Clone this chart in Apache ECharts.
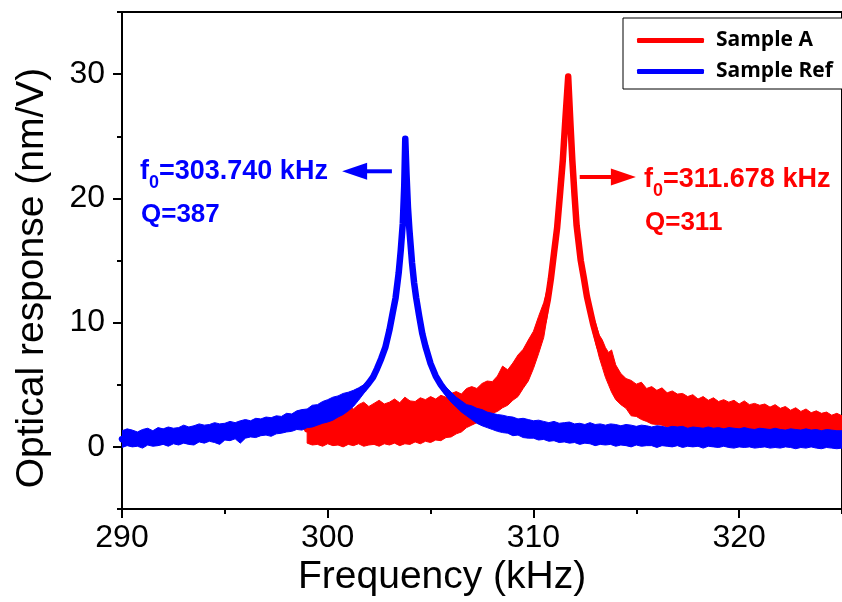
<!DOCTYPE html>
<html><head><meta charset="utf-8">
<script src="https://cdn.jsdelivr.net/npm/echarts@6/dist/echarts.min.js"></script>
<style>html,body{margin:0;padding:0;background:#fff;} #c{width:842px;height:602px;}</style>
</head><body><div id="c"></div>
<script>
// ---- data ----
const xMajorTicks = [290, 300, 310, 320];
const xMinorTicks = [295, 305, 315, 325];
const yMajorTicks = [0, 10, 20, 30];
const yMinorTicks = [-5, 5, 15, 25, 35];
const seriesNames = ['Sample A', 'Sample Ref'];
const xTitle = 'Frequency (kHz)';
const yTitle = 'Optical response (nm/V)';

// Sample Ref (blue): [frequency kHz, lower edge, upper edge] of the noisy trace
const blueTrace = [
  [290,-0.05,1.30],[290.25,0.10,1.45],[290.5,0.00,1.35],[290.75,0.05,1.20],[291,-0.10,1.40],[291.25,0.15,1.50],[291.5,0.05,1.30],[291.75,0.10,1.55],
  [292,0.20,1.45],[292.25,0.05,1.60],[292.5,0.25,1.50],[292.75,0.15,1.55],[293,0.30,1.75],[293.25,0.20,1.60],[293.5,0.15,1.70],[293.75,0.40,1.85],
  [294,0.30,1.75],[294.25,0.45,1.80],[294.5,0.35,1.95],[294.75,0.20,1.85],[295,0.55,1.90],[295.25,0.50,2.05],[295.5,0.65,1.95],[295.75,0.30,2.10],
  [296,0.70,2.20],[296.25,0.80,2.10],[296.5,0.75,2.30],[296.75,0.90,2.25],[297,0.95,2.40],[297.25,0.85,2.35],[297.5,1.05,2.50],[297.75,1.10,2.45],
  [298,1.20,2.70],[298.25,1.25,2.65],[298.5,1.40,2.90],[298.75,1.35,3.00],[299,1.55,3.05],[299.25,1.60,3.35],[299.5,1.75,3.40],[299.75,1.90,3.65],
  [300,2.00,3.80],[300.25,2.15,4.00],[300.5,2.40,4.10],[300.75,2.60,4.30],[301,2.90,4.40],[301.25,3.25,4.55],[301.5,3.75,4.75],[301.75,4.30,5.00],[302,4.95,5.35],
  [302.2,5.6,5.6],[302.4,6.3,6.3],[302.6,7.1,7.1],[302.8,8.0,8.0],[303,9.4,9.4],[303.15,10.7,10.7],[303.3,12.0,12.0],[303.45,14.0,14.0],[303.55,15.8,15.8],
  [303.65,18.0,18.0],[303.72,21.0,21.0],[303.77,24.8,24.8],[303.83,22.0,22.0],[303.9,19.3,19.3],[303.97,17.5,17.5],[304.1,14.8,14.8],[304.2,13.2,13.2],
  [304.3,12.0,12.0],[304.45,10.5,10.5],[304.6,9.1,9.1],[304.75,8.1,8.1],[305,6.7,6.7],
  [305.25,5.4,6.0],[305.5,4.7,5.3],[305.75,4.1,4.8],[306,3.6,4.4],[306.25,3.2,4.0],[306.5,2.8,3.7],[306.75,2.5,3.4],[307,2.2,3.3],[307.25,1.9,3.1],[307.5,1.7,3.0],[307.75,1.55,2.8],
  [308,1.40,2.70],[308.25,1.25,2.60],[308.5,1.15,2.55],[308.75,1.10,2.45],[309,0.90,2.40],[309.25,0.95,2.25],[309.5,0.75,2.30],[309.75,0.70,2.20],
  [310,0.70,2.10],[310.25,0.55,2.15],[310.5,0.60,2.05],[310.75,0.45,1.95],[311,0.50,2.05],[311.25,0.35,1.90],[311.5,0.40,1.95],[311.75,0.30,2.00],
  [312,0.35,1.85],[312.25,0.20,1.90],[312.5,0.30,1.80],[312.75,0.25,1.95],[313,0.10,1.80],[313.25,0.20,1.85],[313.5,0.15,1.75],[313.75,0.20,1.85],
  [314,0.05,1.80],[314.25,0.15,1.70],[314.5,0.10,1.80],[314.75,0.00,1.75],[315,0.15,1.65],[315.25,0.05,1.75],[315.5,0.10,1.70],[315.75,0.10,1.60],
  [316,-0.05,1.70],[316.25,0.10,1.65],[316.5,0.05,1.55],[316.75,0.00,1.65],[317,0.10,1.60],[317.25,-0.05,1.65],[317.5,0.05,1.50],[317.75,0.00,1.60],
  [318,0.05,1.55],[318.25,-0.10,1.50],[318.5,0.05,1.60],[318.75,0.00,1.50],[319,-0.05,1.55],[319.25,0.05,1.45],[319.5,-0.05,1.55],[319.75,-0.10,1.50],
  [320,0.00,1.45],[320.25,-0.05,1.55],[320.5,0.00,1.45],[320.75,-0.10,1.40],[321,-0.05,1.50],[321.25,0.00,1.45],[321.5,-0.10,1.40],[321.75,-0.05,1.50],
  [322,-0.10,1.40],[322.25,0.00,1.35],[322.5,-0.05,1.45],[322.75,-0.15,1.40],[323,-0.05,1.35],[323.25,-0.10,1.45],[323.5,0.00,1.35],[323.75,-0.10,1.40],
  [324,-0.15,1.30],[324.25,-0.05,1.40],[324.5,-0.10,1.35],[324.75,-0.15,1.30],[325,-0.10,1.30]
];

// Sample A (red): [frequency kHz, lower edge, upper edge]
const redTrace = [
  [299,0.30,2.55],[299.25,0.15,2.80],[299.5,0.20,2.95],[299.75,0.05,2.75],[300,0.25,3.05],[300.25,0.10,3.20],[300.5,0.15,2.90],[300.75,0.00,3.15],
  [301,0.20,3.35],[301.25,0.10,3.05],[301.5,0.25,3.40],[301.75,0.05,3.60],[302,0.15,3.25],[302.25,0.20,3.50],[302.5,0.05,3.75],[302.75,0.25,3.45],
  [303,0.15,3.60],[303.25,0.30,3.85],[303.5,0.10,3.55],[303.75,0.25,4.00],[304,0.20,3.70],[304.25,0.40,3.65],[304.5,0.25,3.95],[304.75,0.45,3.80],
  [305,0.35,4.05],[305.25,0.55,3.85],[305.5,0.50,4.15],[305.75,0.75,4.00],[306,0.80,4.30],[306.25,1.05,4.45],[306.5,1.20,4.25],[306.75,1.55,4.70],
  [307,1.75,4.85],[307.25,1.95,4.70],[307.5,2.25,5.10],[307.75,2.35,5.30],[308,2.70,5.25],[308.25,2.85,5.70],[308.5,3.15,6.50],[308.75,3.35,6.20],
  [309,3.75,6.75],[309.25,4.05,7.40],[309.5,4.70,7.85],[309.75,5.30,8.60],[310,6.30,9.30],[310.25,7.50,10.50],[310.5,8.80,11.60],[310.7,10.80,12.90],[310.85,12.90,14.20],
  [311,15.6,15.6],[311.15,17.6,17.6],[311.3,20.5,20.5],[311.43,23.1,23.1],[311.55,26.3,26.3],[311.69,29.8,29.8],[311.8,26.0,26.0],[311.89,23.1,23.1],
  [312,20.2,20.2],[312.1,17.8,17.8],[312.3,15.0,15.0],
  [312.45,13.2,14.0],[312.6,11.6,12.6],[312.75,10.4,11.6],[312.9,9.2,10.6],[313.05,8.2,9.8],[313.2,7.2,9.0],[313.35,6.4,8.6],[313.5,5.6,8.0],
  [313.65,5.0,7.6],[313.8,4.4,7.8],[314,3.8,6.6],[314.25,3.4,5.9],[314.5,3.1,5.5],[314.75,2.5,5.35],[315,2.45,5.05],[315.25,2.2,5.2],
  [315.5,2.05,4.7],[315.75,1.85,4.85],[316,1.8,4.55],[316.25,1.75,4.75],[316.5,1.6,4.35],[316.75,1.65,4.5],[317,1.5,4.25],[317.25,1.6,4.3],
  [317.5,1.45,4.05],[317.75,1.5,4.2],[318,1.4,3.85],[318.25,1.45,4.05],[318.5,1.4,3.75],[318.75,1.3,3.95],[319,1.4,3.65],[319.25,1.35,3.8],
  [319.5,1.3,3.6],[319.75,1.35,3.75],[320,1.3,3.45],[320.25,1.25,3.7],[320.5,1.3,3.4],[320.75,1.2,3.5],[321,1.3,3.35],[321.25,1.2,3.45],
  [321.5,1.25,3.2],[321.75,1.15,3.4],[322,1.25,3.1],[322.25,1.15,3.25],[322.5,1.2,2.95],[322.75,1.1,3.15],[323,1.2,2.85],[323.25,1.1,3.05],
  [323.5,1.15,2.75],[323.75,1.05,2.9],[324,1.15,2.7],[324.25,1.05,2.8],[324.5,1.1,2.55],[324.75,1.0,2.7],[325,1.1,2.5]
];

// annotations
const blueNote = { f0: '=303.740 kHz', Q: 'Q=387', arrowFrom: [303.12, 22.18], arrowTip: [300.70, 22.18] };
const redNote = { f0: '=311.678 kHz', Q: 'Q=311', arrowFrom: [312.25, 21.72], arrowTip: [314.98, 21.72] };

// ---- chart ----
const RED = '#ff0000', BLUE = '#0000ff';
const chart = echarts.init(document.getElementById('c'), null, { renderer: 'canvas' });
const axisFont = { fontFamily: 'Liberation Sans', fontSize: 32, color: '#000' };

function bandSeries(trace, color, z) {
  return {
    type: 'custom', coordinateSystem: 'cartesian2d', xAxisIndex: 0, yAxisIndex: 0,
    silent: true, z: z, clip: true,
    data: [[trace[0][0], trace[0][1]]],
    renderItem: function (params, api) {
      const pts = [];
      for (let i = 0; i < trace.length; i++) pts.push(api.coord([trace[i][0], trace[i][2]]));
      for (let i = trace.length - 1; i >= 0; i--) pts.push(api.coord([trace[i][0], trace[i][1]]));
      return { type: 'polygon', shape: { points: pts }, style: { fill: color, stroke: color, lineWidth: 1 } };
    }
  };
}
function lineSeries(name, trace, color, z) {
  return {
    name: name, type: 'line', xAxisIndex: 0, yAxisIndex: 0,
    data: trace.map(t => [t[0], (t[1] + t[2]) / 2]),
    showSymbol: false, symbol: 'none', color: color, itemStyle: { color: color },
    lineStyle: { color: color, width: 6.5, join: 'round', cap: 'round' },
    emphasis: { disabled: true }, silent: true, z: z
  };
}

const noteRich = (color) => ({
  a: { fontFamily: 'Liberation Sans', fontWeight: 'bold', fontSize: 27, color: color },
  s: { fontFamily: 'Liberation Sans', fontWeight: 'bold', fontSize: 18, color: color, padding: [22, 0, 0, 0] }
});
function noteText(id, x, y, color, note) {
  return [
    { id: id + 'f', type: 'text', x: x, y: y, silent: true,
      style: { text: '{a|f}{s|0}{a|' + note.f0 + '}', rich: noteRich(color), fill: color, verticalAlign: 'middle' } },
    { id: id + 'q', type: 'text', x: x + 1, y: y + 43, silent: true,
      style: { text: note.Q, font: 'bold 26px "Liberation Sans"', fill: color, verticalAlign: 'middle' } }
  ];
}

const option = {
  animation: false,
  backgroundColor: '#fff',
  grid: { left: 122, top: 12, width: 723, height: 497, show: true, borderColor: '#000', borderWidth: 2, backgroundColor: 'transparent' },
  xAxis: [
    { type: 'value', min: 290, max: 325, position: 'bottom',
      axisLine: { show: true, onZero: false, lineStyle: { color: '#000', width: 2 } },
      axisTick: { show: true, inside: false, length: 9, lineStyle: { color: '#000', width: 2 }, customValues: xMajorTicks },
      axisLabel: Object.assign({ margin: 13, customValues: xMajorTicks }, axisFont),
      splitLine: { show: false } },
    { type: 'value', min: 290, max: 325, position: 'bottom',
      axisLine: { show: false, onZero: false },
      axisTick: { show: true, inside: false, length: 5, lineStyle: { color: '#000', width: 2 }, customValues: xMinorTicks },
      axisLabel: { show: false }, splitLine: { show: false } }
  ],
  yAxis: [
    { type: 'value', min: -5, max: 35, position: 'left',
      axisLine: { show: true, onZero: false, lineStyle: { color: '#000', width: 2 } },
      axisTick: { show: true, inside: false, length: 9, lineStyle: { color: '#000', width: 2 }, customValues: yMajorTicks },
      axisLabel: Object.assign({ margin: 17, customValues: yMajorTicks }, axisFont),
      splitLine: { show: false } },
    { type: 'value', min: -5, max: 35, position: 'left',
      axisLine: { show: false, onZero: false },
      axisTick: { show: true, inside: false, length: 5, lineStyle: { color: '#000', width: 2 }, customValues: yMinorTicks },
      axisLabel: { show: false }, splitLine: { show: false } }
  ],
  legend: {
    data: seriesNames, orient: 'vertical', left: 623, top: 18,
    padding: [12, 14, 7, 14], borderColor: '#000', borderWidth: 1, backgroundColor: '#fff',
    itemWidth: 67, itemHeight: 5, itemGap: 10, icon: 'roundRect',
    textStyle: { fontFamily: 'Open Sans', fontWeight: 'bold', fontSize: 21, color: '#000', padding: [0, 0, 0, 7] },
    selectedMode: false
  },
  series: [
    bandSeries(redTrace, RED, 2),
    lineSeries(seriesNames[0], redTrace, RED, 2),
    bandSeries(blueTrace, BLUE, 3),
    lineSeries(seriesNames[1], blueTrace, BLUE, 3)
  ],
  graphic: [
    { id: 'xt', type: 'text', x: 298, y: 577, silent: true, style: { text: xTitle, font: '39px "Liberation Sans"', fill: '#000', verticalAlign: 'middle' } },
    { id: 'yt', type: 'text', x: 32, y: 278, rotation: Math.PI / 2, silent: true,
      style: { text: yTitle, font: '39px "Liberation Sans"', fill: '#000', align: 'center', verticalAlign: 'middle' } }
  ].concat(noteText('bn', 140, 172, BLUE, blueNote), noteText('rn', 644, 180, RED, redNote))
};
chart.setOption(option);

// arrows, placed through the chart's own axes
function arrowGraphic(id, note, color) {
  const a = chart.convertToPixel({ xAxisIndex: 0, yAxisIndex: 0 }, note.arrowFrom);
  const t = chart.convertToPixel({ xAxisIndex: 0, yAxisIndex: 0 }, note.arrowTip);
  const dx = t[0] - a[0], dy = t[1] - a[1], len = Math.hypot(dx, dy);
  const ux = dx / len, uy = dy / len, headL = 25, headW = 8.5;
  const bx = t[0] - ux * headL, by = t[1] - uy * headL;
  return [
    { id: id + 's', type: 'line', silent: true, z: 10, shape: { x1: a[0], y1: a[1], x2: bx + ux * 2, y2: by + uy * 2 }, style: { stroke: color, lineWidth: 4 } },
    { id: id + 'h', type: 'polygon', silent: true, z: 10, shape: { points: [[t[0], t[1]], [bx - uy * headW, by + ux * headW], [bx + uy * headW, by - ux * headW]] }, style: { fill: color } }
  ];
}
chart.setOption({ graphic: arrowGraphic('ba', blueNote, BLUE).concat(arrowGraphic('ra', redNote, RED)) });
</script></body></html>
